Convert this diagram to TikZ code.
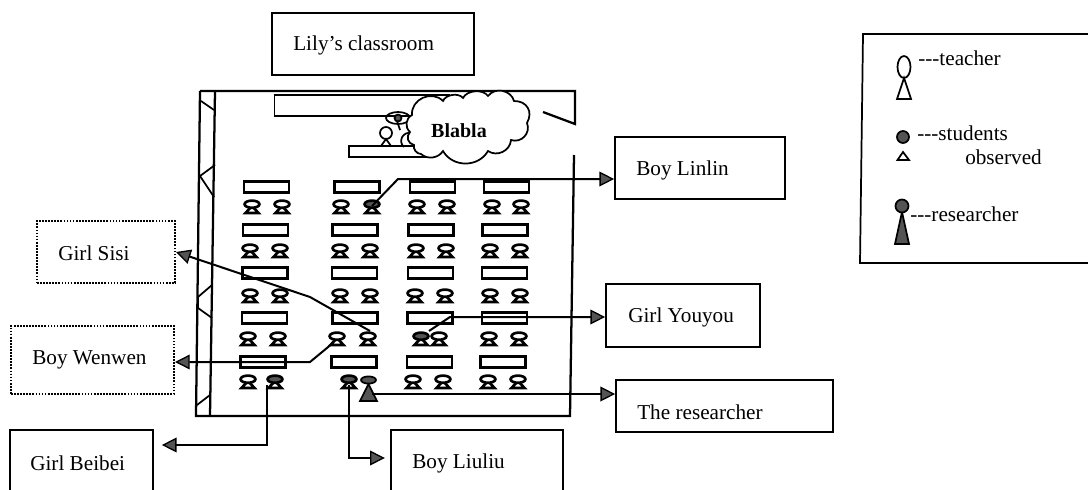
\documentclass[tikz,border=0pt]{standalone}
\usepackage{fontspec}
\setmainfont{Liberation Serif}
\usetikzlibrary{arrows.meta}
\definecolor{stip}{gray}{0.33}
\tikzset{
  x=0.75pt,y=-0.75pt,
  every node/.style={font=\fontsize{15.9pt}{18pt}\selectfont},
  boxsize/.style 2 args={minimum width=#1*0.75pt,minimum height=#2*0.75pt,inner sep=0pt},
  namebox/.style={draw=black,line width=1.3pt},
  dotbox/.style={draw=black,line width=1.5pt,dash pattern=on 1.3pt off 1pt},
  label text/.style={inner sep=0pt,anchor=west},
  desk/.style={draw=black,line width=1.6pt,fill=white,minimum width=45*0.75pt,minimum height=11*0.75pt,inner sep=0pt},
  wall/.style={line width=1.7pt,draw=black},
  thin wall/.style={line width=1.3pt,draw=black},
  link/.style={line width=1.5pt,draw=black},
  arrowlink/.style={link,-{Triangle[length=11pt,width=11pt,fill=stip,line width=1pt]}},
  person/.style={line width=1.3pt,draw=black},
  shaded/.style={person,fill=stip},
  pics/seat/.style={code={
    \draw[person,line width=2pt,line join=miter] (-6.5,6) -- (6.5,6) -- (0,-1) -- cycle;
    \draw[person,line width=2pt,fill=#1] (0,-2.8) ellipse [x radius=7.4,y radius=3.6];
  }},
}
\begin{document}
\begin{tikzpicture}
\useasboundingbox (0,0) rectangle (1088,489);
\fill[white] (0,0) rectangle (1088,489);

% room
\draw[wall] (200,91) -- (196,416) -- (570,416) -- (574,155);
\draw[wall] (215,91) -- (210,416);
\draw[wall] (200,91) -- (575,91) -- (575,124) -- (543,112);
\draw[thin wall] (201,101) -- (214,110);
\draw[thin wall] (215,165) -- (200,176) -- (214,197);
\draw[thin wall] (212,285) -- (198,297) -- (198,308) -- (212,318);
\draw[thin wall] (210,395) -- (197,405);

% blackboard and podium
\node[namebox,boxsize={175}{21}] (board) at (362,105.5) {};
\node[namebox,boxsize={80}{11}] (podium) at (389,151.5) {};

% teacher and thought
\draw[person] (386,133) circle [radius=6];
\draw[person] (381,146) -- (391,146) -- (386,139) -- cycle;
\draw[person] (398,118) ellipse [x radius=12,y radius=6];
\draw[shaded] (398,118) circle [radius=3.5];
\draw[person] (412,133) .. controls (402,131) and (398,142) .. (404,147);
\draw[person] (397,121) -- (400,130);

% cloud
\draw[person,fill=white] (414,145)
  to[bend left=60,looseness=1.2] (410,132)
  to[bend left=55,looseness=1.1] (412,115)
  to[bend left=70,looseness=1.2] (443,101)
  to[bend left=60,looseness=.9] (463,98)
  to[bend left=60,looseness=.9] (488,96)
  to[bend left=65,looseness=1.1] (514,101)
  to[bend left=60,looseness=1.3] (527,123)
  to[bend left=65,looseness=1.2] (511,140)
  to[bend left=60,looseness=1.1] (488,151)
  to[bend left=60,looseness=1.1] (443,151)
  to[bend left=50,looseness=1] (421,154)
  to[bend left=50] cycle;
\node[inner sep=0pt,font=\fontsize{15pt}{18pt}\selectfont\bfseries] (blabla) at (459,131) {Blabla};

% desks
\foreach \cx/\cy [count=\i] in {
  266.5/187,357/187,432.5/187,506.5/187,
  265.5/230,355/230,431/230,505/230,
  265/273,354.5/273,430.5/273,504.5/273,
  264.5/318,355/318,430/318,504.5/318,
  263/362,354/362,429.5/362,503/362}
  \node[desk] (desk\i) at (\cx,\cy) {};

% seats
\foreach \sx/\sy in {
  252/207,282/207,341/207,417/207,447/207,492/207,521/207,
  250/251,280/251,340/251,370/251,416/251,446/251,490/251,520/251,
  250/296,280/296,340/296,370/296,415/296,445/296,490/296,520/296,
  248/339,278/339,337/339,368/339,439/339,489/339,519/339,
  248/382,413/382,443/382,488/382,518/382}
  \pic at (\sx,\sy) {seat=white};
\foreach \sx/\sy in {372/207,421/339,275/382,349/382}
  \pic at (\sx,\sy) {seat=stip};
% researcher in the room
\draw[shaded] (360,401) -- (377,401) -- (368.5,384) -- cycle;
\draw[shaded] (368.5,380) ellipse [x radius=7.5,y radius=3.6];

% name boxes
\node[namebox,boxsize={202}{62}] (lily) at (373,44) {};
\node[label text] (lilyT) at (293,45) {Lily’s classroom};
\node[namebox,boxsize={170}{62}] (linlin) at (700,168) {};
\node[label text] (linlinT) at (636,170) {Boy Linlin};
\node[namebox,boxsize={154}{63}] (youyou) at (683,315.5) {};
\node[label text] (youyouT) at (628,317) {Girl Youyou};
\node[namebox,boxsize={217}{52}] (researcher) at (724.5,406) {};
\node[label text] (researcherT) at (637,412) {The researcher};
\node[namebox,boxsize={172}{70}] (liuliu) at (477,465) {};
\node[label text] (liuliuT) at (412,463) {Boy Liuliu};
\node[namebox,boxsize={143}{70}] (beibei) at (81.5,465) {};
\node[label text] (beibeiT) at (30,463) {Girl Beibei};
\node[dotbox,boxsize={138}{62}] (sisi) at (106,252) {};
\node[label text] (sisiT) at (58,253) {Girl Sisi};
\node[dotbox,boxsize={163}{68}] (wenwen) at (92.5,360) {};
\node[label text] (wenwenT) at (32,360) {Boy Wenwen};

% connectors
\coordinate (sLinlin) at (372,206);
\coordinate (kLinlin) at (398,179);
\coordinate (sSisi) at (370,331);
\coordinate (kSisi) at (310,297);
\coordinate (sWenwen) at (333,343);
\coordinate (kWenwen) at (310,362);
\coordinate (sYouyou) at (429,331);
\coordinate (kYouyou) at (450,317);
\coordinate (sResearcher) at (372,394);
\coordinate (sBeibei) at (267,385);
\coordinate (kBeibei) at (267,445);
\coordinate (sLiuliu) at (349,385);
\coordinate (kLiuliu) at (349,458);

\draw[arrowlink] (sLinlin) -- (kLinlin) -- (linlin.west |- kLinlin);
\draw[arrowlink] (sSisi) -- (kSisi) -- (sisi.east);
\draw[arrowlink] (sWenwen) -- (kWenwen) -- (wenwen.east |- kWenwen);
\draw[arrowlink] (sYouyou) -- (kYouyou) -- (youyou.west |- kYouyou);
\draw[arrowlink] (sResearcher) -- (researcher.west |- sResearcher);
\draw[arrowlink,shorten >=6pt] (sBeibei) -- (kBeibei) -- (beibei.east |- kBeibei);
\draw[arrowlink,shorten >=4pt] (sLiuliu) -- (kLiuliu) -- (liuliu.west |- kLiuliu);

% legend
\draw[namebox] (1095,34) -- (863,34) -- (860,263) -- (1095,263);
\draw[person] (904,67) ellipse [x radius=6.5,y radius=11];
\draw[person] (904,78) -- (897,99) -- (911,99) -- cycle;
\node[label text] (legTeacher) at (918,58) {-{}-{}-teacher};
\draw[shaded] (903,137) circle [radius=6];
\draw[person] (903,152) -- (897.5,160) -- (909,160) -- cycle;
\node[label text] (legStudents) at (917,133) {-{}-{}-students};
\node[label text] (legObserved) at (965,157) {observed};
\draw[shaded] (895,244) -- (909,244) -- (902,212) -- cycle;
\draw[shaded] (902,206) circle [radius=6.5];
\node[label text] (legResearcher) at (910,214) {-{}-{}-researcher};
\end{tikzpicture}
\end{document}
